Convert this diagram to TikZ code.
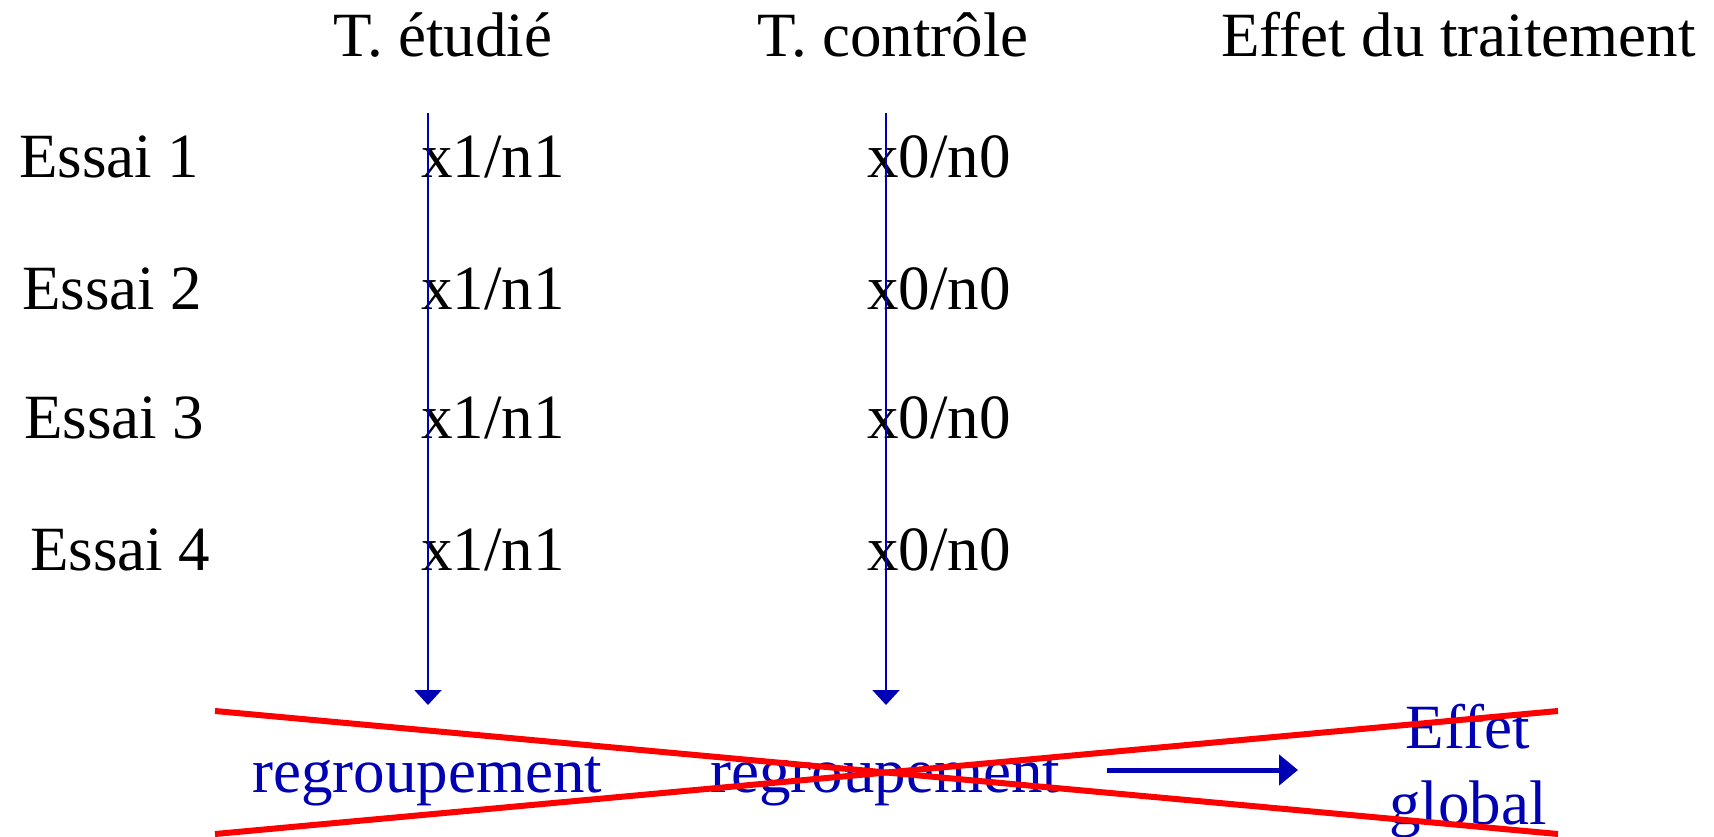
\documentclass[tikz,border=0pt]{standalone}
\usepackage{fontspec}
\setmainfont{Liberation Serif}
\usetikzlibrary{arrows.meta}
\definecolor{dblue}{RGB}{0,0,180}
\definecolor{xred}{RGB}{255,0,0}
\tikzset{
  txt/.style={inner sep=0pt, font=\fontsize{63}{76}\selectfont},
  bluetxt/.style={txt, text=dblue},
  varrow/.style={draw=dblue, line width=2pt, -{Triangle[width=27pt,length=15pt]}},
  harrow/.style={draw=dblue, line width=5pt, -{Triangle[width=30pt,length=19pt]}},
  cross/.style={draw=xred, line width=6pt}
}
\begin{document}
\begin{tikzpicture}[x=1pt,y=-1pt]
\useasboundingbox (0,0) rectangle (1714,837);
% headers
\node[txt, anchor=base west] (h1) at (333,57) {T. étudié};
\node[txt, anchor=base west] (h2) at (757,57) {T. contrôle};
\node[txt, anchor=base west] (h3) at (1221,57) {Effet du traitement};
% rows
\node[txt, anchor=base west] (e1) at (19,178) {Essai 1};
\node[txt, anchor=base west] (e2) at (22,309) {Essai 2};
\node[txt, anchor=base west] (e3) at (24,438) {Essai 3};
\node[txt, anchor=base west] (e4) at (30,570) {Essai 4};
\node[txt, anchor=base west] (a1) at (421,178) {x1/n1};
\node[txt, anchor=base west] (a2) at (421,309) {x1/n1};
\node[txt, anchor=base west] (a3) at (421,438) {x1/n1};
\node[txt, anchor=base west] (a4) at (421,570) {x1/n1};
\node[txt, anchor=base west] (b1) at (867,178) {x0/n0};
\node[txt, anchor=base west] (b2) at (867,309) {x0/n0};
\node[txt, anchor=base west] (b3) at (867,438) {x0/n0};
\node[txt, anchor=base west] (b4) at (867,570) {x0/n0};
% bottom
\node[bluetxt, anchor=base west] (rg1) at (252,792) {regroupement};
\node[bluetxt, anchor=base west] (rg2) at (710,792) {regroupement};
\node[bluetxt, anchor=base, align=center] (eff) at (1468,824) {Effet\\global};
% arrows
\coordinate (c1s) at (428,113);
\coordinate (c1e) at (428,705);
\coordinate (c2s) at (886,113);
\coordinate (c2e) at (886,705);
\draw[varrow] (c1s) -- (c1e);
\draw[varrow] (c2s) -- (c2e);
\coordinate (hs) at (1107,770);
\coordinate (he) at (1298,770);
\draw[harrow] (hs) -- (he);
% cross
\coordinate (x1) at (215,711);
\coordinate (x2) at (1558,834);
\coordinate (x3) at (215,834);
\coordinate (x4) at (1558,711);
\draw[cross] (x1) -- (x2);
\draw[cross] (x3) -- (x4);
\end{tikzpicture}
\end{document}
